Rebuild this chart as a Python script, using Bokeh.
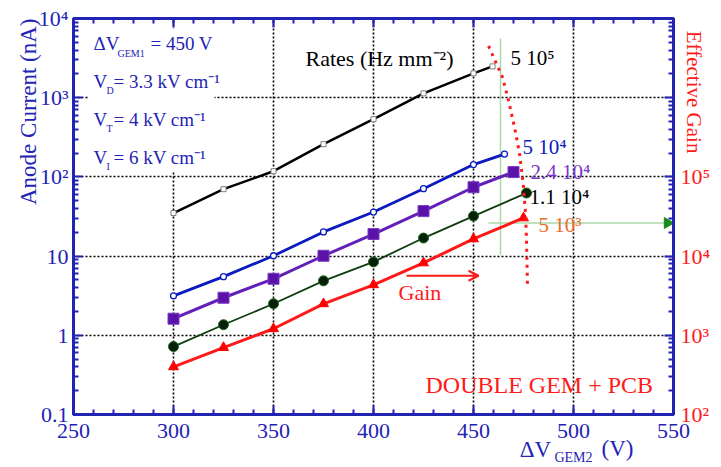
import math
from bokeh.plotting import figure
from bokeh.models import (LogAxis, LinearAxis, LogScale, FixedTicker, Range1d, Label, Arrow,
                          OpenHead, BoxAnnotation)
from bokeh.embed import file_html
from bokeh.resources import INLINE

# ---- data: anode current (nA) vs ΔV_GEM2 (V) for each incident rate ----
rate_labels = ["5 10⁵", "5 10⁴", "2.4 10⁴", "1.1 10⁴", "5 10³"]

v_5e5 = [300, 325, 350, 375, 400, 425, 450, 459.5]
i_5e5 = [35, 70, 118, 259, 535, 1135, 2030, 2485]

v_5e4 = [300, 325, 350, 375, 400, 425, 450, 465.5]
i_5e4 = [3.15, 5.5, 10.1, 20.2, 36, 71, 143, 194]

v_24e4 = [300, 325, 350, 375, 400, 425, 450, 470]
i_24e4 = [1.62, 2.98, 5.17, 10.1, 19, 37, 74, 115]

v_11e4 = [300, 325, 350, 375, 400, 425, 450, 476.5]
i_11e4 = [0.72, 1.36, 2.5, 4.87, 8.45, 16.9, 32, 62.5]

v_5e3 = [300, 325, 350, 375, 400, 425, 450, 475]
i_5e3 = [0.40, 0.70, 1.21, 2.5, 4.34, 8.2, 16.5, 30.3]

# discharge / maximum-gain boundary (dotted)
limit_v = [457.5, 464.5, 467.5, 470.5, 473, 475, 476, 476.5, 477]
limit_i = [4500, 1810, 927, 424, 200, 74.5, 35, 16, 4.1]

# working-point guide lines (current scale, gain = current x 1000)
guide_vx = [463.5, 463.5]
guide_vy = [5600, 10.4]
guide_hx = [457.5, 550]
guide_hy = [26.2, 26.2]
guide_marker_x = [547]

# gain arrow
gain_arrow_v = [416.5, 452.5]
gain_arrow_i = 5.65

x_ticks = [250, 300, 350, 400, 450, 500, 550]
x_minor = list(range(250, 551, 10))
left_ticks = [0.1, 1, 10, 100, 1000, 10000]
left_tick_labels = ["0.1", "1", "10", "10²", "10³", "10⁴"]
right_ticks = [1e2, 1e3, 1e4, 1e5, 1e6, 1e7]
right_tick_labels = ["10²", "10³", "10⁴", "10⁵", "", ""]

BLUE = "#2323b4"
RED = "#ff1a1a"
SERIF = "Liberation Serif"

p = figure(width=721, height=467, x_range=Range1d(250, 550), y_range=Range1d(0.1, 1e4),
           y_axis_type="log", output_backend="svg", toolbar_location=None,
           min_border_left=73, min_border_right=48, min_border_top=18, min_border_bottom=52,
           background_fill_color="white", border_fill_color="white")
p.extra_y_ranges = {"gain": Range1d(1e2, 1e7)}
p.extra_y_scales = {"gain": LogScale()}

def log_minors(lo, hi):
    return [m * 10 ** k for k in range(lo, hi) for m in range(2, 10)]

def style_axis(ax, color, font_size="22px"):
    ax.axis_line_color = BLUE
    ax.axis_line_width = 3
    ax.major_tick_line_color = BLUE
    ax.minor_tick_line_color = BLUE
    ax.major_tick_line_width = 2
    ax.minor_tick_line_width = 2
    ax.major_tick_in = 9
    ax.major_tick_out = 0
    ax.minor_tick_in = 5
    ax.minor_tick_out = 0
    ax.major_label_text_color = color
    ax.major_label_text_font = SERIF
    ax.major_label_text_font_size = font_size

def title_axis(cls, tick, text, color, size, standoff, orientation, **kw):
    # an axis with no line and no tick marks that only carries a title text
    ax = cls(ticker=FixedTicker(ticks=[tick], minor_ticks=[]),
             major_label_overrides={tick: text}, **kw)
    ax.axis_line_alpha = 0
    ax.major_tick_line_alpha = 0
    ax.minor_tick_line_alpha = 0
    ax.major_tick_in = 0
    ax.major_tick_out = 0
    ax.minor_tick_in = 0
    ax.minor_tick_out = 0
    ax.major_label_text_color = color
    ax.major_label_text_font = SERIF
    ax.major_label_text_font_size = f"{size}px"
    ax.major_label_standoff = standoff
    ax.major_label_orientation = orientation
    return ax

# bottom axis
xa = p.xaxis[0]
xa.ticker = FixedTicker(ticks=x_ticks, minor_ticks=x_minor)
style_axis(xa, BLUE)
xa.major_label_standoff = 9

# left axis
ya = p.yaxis[0]
ya.ticker = FixedTicker(ticks=left_ticks, minor_ticks=log_minors(-1, 4))
ya.major_label_overrides = dict(zip(left_ticks, left_tick_labels))
style_axis(ya, BLUE)
ya.major_label_standoff = 5

# right axis: effective gain
ra = LogAxis(y_range_name="gain",
             ticker=FixedTicker(ticks=right_ticks, minor_ticks=log_minors(2, 7)),
             major_label_overrides=dict(zip(right_ticks, right_tick_labels)))
style_axis(ra, RED)
ra.major_label_standoff = 7
p.add_layout(ra, "right")

# top axis: ticks only
ta = LinearAxis(ticker=FixedTicker(ticks=x_ticks, minor_ticks=x_minor))
style_axis(ta, BLUE, "1px")
ta.major_label_text_alpha = 0
ta.major_label_standoff = 0
p.add_layout(ta, "above")

# axis titles
p.add_layout(title_axis(LogAxis, 10000, "Anode Current (nA)", BLUE, 23, 7, math.pi / 2), "left")
p.add_layout(title_axis(LogAxis, 7000000, "Effective Gain", RED, 21, -20, -math.pi / 2,
                        y_range_name="gain"), "right")
p.add_layout(title_axis(LinearAxis, 481, "ΔV", BLUE, 23, -4, "horizontal"), "below")
p.add_layout(title_axis(LinearAxis, 522, "(V)", BLUE, 23, -29, "horizontal"), "below")
p.add_layout(title_axis(LinearAxis, 500, "GEM2", BLUE, 14, -15, "horizontal"), "below")

p.outline_line_color = BLUE
p.outline_line_width = 3

# grid
p.xgrid.ticker = FixedTicker(ticks=[300, 350, 400, 450, 500])
p.ygrid.ticker = FixedTicker(ticks=[1, 10, 100, 1000])
for g in (p.xgrid[0], p.ygrid[0]):
    g.grid_line_color = "black"
    g.grid_line_dash = "2 2"
    g.grid_line_width = 1.6

# pixel -> data helpers for placing text inside the frame
def dx(px):
    return 250 + (px - 73) / 2.0

def dy(py):
    return 10 ** (-1 + (415 - py) / 79.4)

# white panel behind the run conditions
p.add_layout(BoxAnnotation(left=dx(88), right=dx(214), top=dy(28), bottom=dy(172),
                           fill_color="white", fill_alpha=1, line_alpha=0, level="underlay"))

# guide lines
p.line(guide_vx, guide_vy, line_color="#a8daa8", line_width=1.5)
p.line(guide_hx, guide_hy, line_color="#a8daa8", line_width=1.5)
p.scatter(guide_marker_x, guide_hy[:1], marker="triangle", angle=-math.pi / 2, size=11,
          fill_color="#1a8a1a", line_color="#1a8a1a")

# series
p.line(v_5e5, i_5e5, line_color="black", line_width=2.5)
p.scatter(v_5e5, i_5e5, marker="square", size=5, fill_color="white", line_color="#808080")

p.line(v_5e4, i_5e4, line_color="#0b1bbf", line_width=2.8)
p.scatter(v_5e4, i_5e4, marker="circle", size=6, fill_color="white", line_color="#0b1bbf", line_width=1.3)

p.line(v_24e4, i_24e4, line_color="#6220b8", line_width=3)
p.scatter(v_24e4, i_24e4, marker="square", size=11, fill_color="#5a12a8", line_color="#7a3ac8")

p.line(v_11e4, i_11e4, line_color="#0d3d10", line_width=1.8)
p.scatter(v_11e4, i_11e4, marker="circle", size=10, fill_color="#06200a", line_color="#1a6a1a")

p.line(v_5e3, i_5e3, line_color=RED, line_width=3)
p.scatter(v_5e3, i_5e3, marker="triangle", size=10, fill_color="#ff0000", line_color="#ff0000")

# boundary
p.line(limit_v, limit_i, line_color=RED, line_width=3, line_dash="3 5")

# gain arrow
p.add_layout(Arrow(x_start=gain_arrow_v[0], y_start=gain_arrow_i,
                   x_end=gain_arrow_v[1], y_end=gain_arrow_i,
                   line_color=RED, line_width=2,
                   end=OpenHead(size=10, line_color=RED, line_width=2)))

def lab(text, px, py, color, size, align="left", font=SERIF):
    p.add_layout(Label(x=dx(px), y=dy(py), text=text, text_color=color,
                       text_font=font, text_font_size=f"{size}px",
                       text_align=align, text_baseline="middle"))

# run conditions
lab("ΔV", 93, 43, BLUE, 19)
lab("GEM1", 117, 53, BLUE, 10)
lab("= 450 V", 150, 43, BLUE, 19)
lab("V", 93, 81, BLUE, 19)
lab("D", 106, 90, BLUE, 10)
lab("= 3.3 kV cm⁻¹", 113, 81, BLUE, 19)
lab("V", 93, 119, BLUE, 19)
lab("T", 106, 128, BLUE, 10)
lab("= 4 kV cm⁻¹", 113, 119, BLUE, 19)
lab("V", 93, 157, BLUE, 19)
lab("I", 106, 166, BLUE, 10)
lab("= 6 kV cm⁻¹", 113, 157, BLUE, 19)

# rate labels
lab("Rates (Hz mm⁻²)", 305, 58, "black", 22)
lab(rate_labels[0], 510, 58, "black", 21)
lab(rate_labels[1], 522, 147, "#0b1bbf", 21)
lab(rate_labels[2], 530, 172, "#7b35c6", 21)
lab(rate_labels[3], 529, 197, "black", 21)
lab(rate_labels[4], 538, 225, "#ee6a2a", 21)

lab("Gain", 398, 293, RED, 22)
lab("DOUBLE GEM + PCB", 425, 385, RED, 24)

open("out.html", "w").write(file_html(p, INLINE))
